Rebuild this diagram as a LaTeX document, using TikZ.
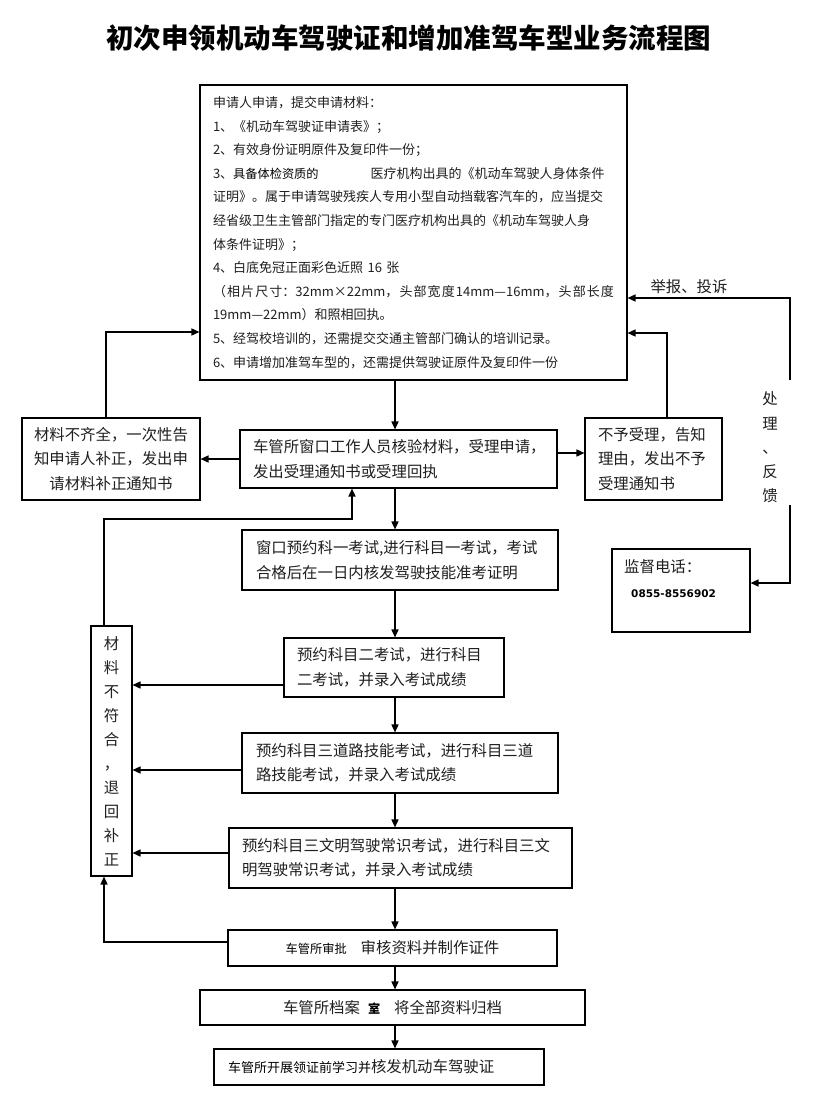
\documentclass[tikz,border=0pt]{standalone}
\usepackage{fontspec}
\setmainfont{Noto Sans CJK SC}
\newfontfamily\numfam{DejaVu Sans}
\usetikzlibrary{arrows.meta}
\newcommand\boxfont{\fontsize{15.4}{24.5}\selectfont}
\newcommand\matfont{\fontsize{13}{23.6}\selectfont}
\newcommand\smallcjk{\fontsize{12.2}{12.2}\selectfont\color{black}}
\newcommand\titlefont{\fontsize{27.5}{30}\selectfont\bfseries}
\newcommand\numfont{\numfam\bfseries\fontsize{10.5}{12}\selectfont}
\begin{document}
\begin{tikzpicture}[x=1pt,y=-1pt,
  box/.style={draw, line width=1.1pt, inner ysep=0pt, font=\boxfont, text=black!88},
  lbox/.style={box, align=left},
  arr/.style={line width=1.5pt, -{Triangle[length=8pt,width=7pt]}},
  ln/.style={line width=1.5pt},
  plain/.style={inner sep=0pt, font=\boxfont, text=black!88}]
\useasboundingbox (0,0) rectangle (823,1119);
\fill[white] (0,0) rectangle (823,1119);

% title
\node[plain, font=\titlefont, text=black] (T) at (408.5,38) {初次申领机动车驾驶证和增加准驾车型业务流程图};

% materials box
\node[lbox, font=\matfont, minimum width=427pt, minimum height=295pt, text width=401pt, inner xsep=13pt] (A) at (413.5,232.5) {申请人申请，提交申请材料：\\
1、《机动车驾驶证申请表》；\\
2、有效身份证明原件及复印件一份；\\
3、{\smallcjk 具备体检资质的}\hspace{52pt}医疗机构出具的《机动车驾驶人身体条件\\
证明》。属于申请驾驶残疾人专用小型自动挡载客汽车的，应当提交\\
经省级卫生主管部门指定的专门医疗机构出具的《机动车驾驶人身\\
体条件证明》；\\
4、白底免冠正面彩色近照 16 张\\
\leavevmode\hbox to 401pt{（\hfil 相\hfil 片\hfil 尺\hfil 寸：32mm×22mm，\hfil 头\hfil 部\hfil 宽\hfil 度\hfil 14mm—16mm，\hfil 头\hfil 部\hfil 长\hfil 度}\\
19mm—22mm）和照相回执。\\
5、经驾校培训的，还需提交交通主管部门确认的培训记录。\\
6、申请增加准驾车型的，还需提供驾驶证原件及复印件一份};

% second row
\node[box, align=center, minimum width=178pt, minimum height=82pt, text width=158pt, inner xsep=10pt] (L1) at (111,459) {材料不齐全，一次性告\\知申请人补正，发出申\\请材料补正通知书};
\node[lbox, minimum width=317pt, minimum height=58pt, text width=291pt, inner xsep=13pt] (B) at (398.5,459) {车管所窗口工作人员核验材料，受理申请，\\发出受理通知书或受理回执};
\node[lbox, minimum width=137pt, minimum height=82pt, text width=111pt, inner xsep=13pt] (R1) at (653.5,459) {不予受理，告知\\理由，发出不予\\受理通知书};

% main chain
\node[lbox, minimum width=316pt, minimum height=60pt, text width=288pt, inner xsep=14pt] (C) at (400,560) {窗口预约科一考试,进行科目一考试，考试\\合格后在一日内核发驾驶技能准考证明};
\node[lbox, minimum width=220pt, minimum height=59pt, text width=194pt, inner xsep=13pt] (D) at (394,667.5) {预约科目二考试，进行科目\\二考试，并录入考试成绩};
\node[lbox, minimum width=316pt, minimum height=60pt, text width=288pt, inner xsep=14pt] (E) at (400,763) {预约科目三道路技能考试，进行科目三道\\路技能考试，并录入考试成绩};
\node[lbox, minimum width=343pt, minimum height=60pt, text width=317pt, inner xsep=13pt] (F) at (400.5,858) {预约科目三文明驾驶常识考试，进行科目三文\\明驾驶常识考试，并录入考试成绩};
\node[box, minimum width=329pt, minimum height=36pt, inner xsep=0pt] (G) at (392.5,948) {{\smallcjk 车管所审批}\hspace{14pt}审核资料并制作证件};
\node[box, minimum width=385pt, minimum height=35pt, inner xsep=0pt] (H) at (392.5,1007.5) {车管所档案\hspace{8pt}{\smallcjk\bfseries 室}\hspace{14pt}将全部资料归档};
\node[lbox, minimum width=330pt, minimum height=36pt, text width=302pt, inner xsep=14pt] (I) at (379,1067) {{\fontsize{13}{13}\selectfont\color{black}车管所开展领证前学习并}核发机动车驾驶证};

% left vertical box
\node[box, align=center, minimum width=41pt, minimum height=250pt, inner xsep=0pt, font=\fontsize{15.4}{24}\selectfont] (V) at (111.5,751) {材\\料\\不\\符\\合\\，\\退\\回\\补\\正};

% right side
\node[box, minimum width=138pt, minimum height=83pt] (M) at (681,590.5) {};
\node[plain, anchor=west] (Mt) at (624,567) {监督电话：};
\node[plain, anchor=west, font=\numfont, text=black] (Mn) at (631,594) {0855-8556902};
\node[plain, align=center, font=\fontsize{15.4}{24.2}\selectfont] (fb) at (770,447.5) {处\\理\\、\\反\\馈};
\node[plain] (jb) at (689,287) {举报、投诉};
\coordinate (fbt) at (790,380);
\coordinate (fbb) at (790,505);
\coordinate (col) at (395,0);
\coordinate (vb) at (352,519);

% connectors
\draw[arr] (A.south -| col) -- (B.north -| col);
\draw[arr] (B.west) -- (L1.east);
\draw[arr] (B.east |- 0,453) -- (R1.west |- 0,453);
\draw[arr] (L1.north -| 106,0) |- (A.west |- 0,332);
\draw[arr] (R1.north -| 667,0) |- (A.east |- 0,333);
\draw[arr] (fbt) |- (A.east |- 0,298);
\draw[arr] (fbb) |- (M.east |- 0,583);
\draw[arr] (B.south -| col) -- (C.north -| col);
\draw[arr] (C.south -| col) -- (D.north -| col);
\draw[arr] (D.south -| col) -- (E.north -| col);
\draw[arr] (E.south -| col) -- (F.north -| col);
\draw[arr] (F.south -| col) -- (G.north -| col);
\draw[arr] (G.south -| col) -- (H.north -| col);
\draw[arr] (H.south -| col) -- (I.north -| col);
\draw[arr] (V.north -| 104,0) |- (vb) -- (B.south -| vb);
\draw[arr] (D.west |- 0,685) -- (V.east |- 0,685);
\draw[arr] (E.west |- 0,770) -- (V.east |- 0,770);
\draw[arr] (F.west |- 0,853) -- (V.east |- 0,853);
\draw[arr] (G.west |- 0,942) -| (V.south -| 104,0);
\end{tikzpicture}
\end{document}
